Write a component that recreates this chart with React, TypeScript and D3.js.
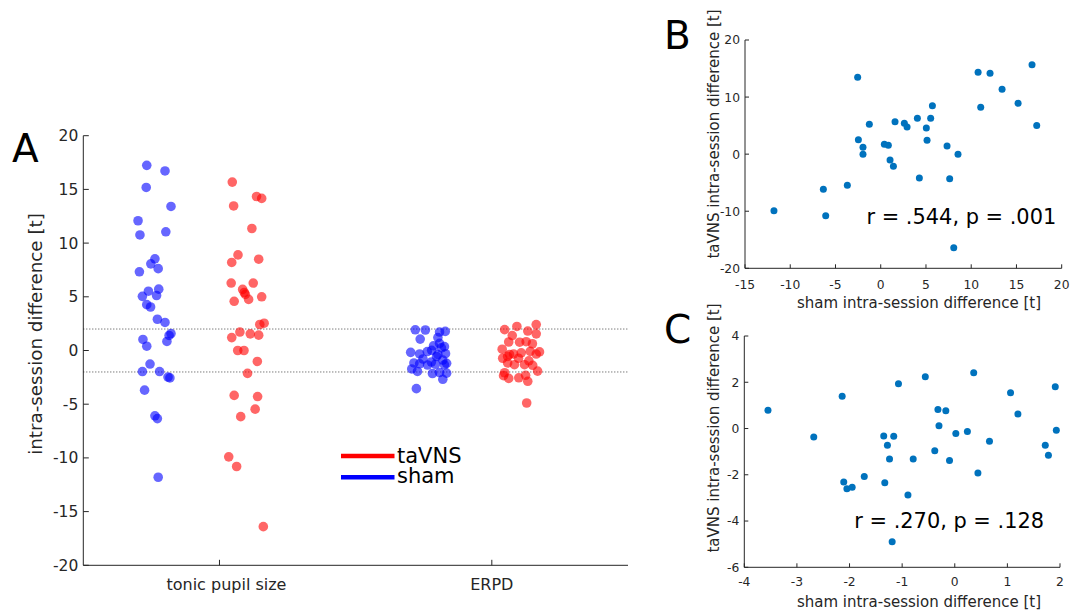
import React from "react";
import * as d3 from "d3";

// ---------- DATA ----------
// Panel A: tonic pupil size (same subjects as panel B)
const tonicSham = [-11.8, -2.55, -6.34, -6.08, -3.69, -2.47, -1.96, -1.96, -1.26, 0.4, 0.84, 1.03, 1.4, 1.58, 2.61, 2.91, 4.05, 4.27, 5.04, 5.12, 5.52, 5.71, 7.33, 7.62, 8.07, 8.54, 10.76, 11.05, 12.08, 13.41, 15.18, 16.72, 17.24];
const tonicTaVNS = [-9.9, 13.46, -6.16, -10.8, -5.46, 2.54, 1.2, 0, 5.23, 1.72, 1.55, -1.02, -2.13, 5.69, 5.4, 4.76, 6.28, -4.18, 4.58, 2.42, 6.28, 8.5, 1.43, -4.29, -16.4, 0, 14.34, 8.2, 14.16, 11.36, 8.9, 15.68, 5.0];
// ERPD (same subjects as panel C)
const erpdSham = [-3.55, -2.68, -2.14, -2.11, -2.05, -1.95, -1.72, -1.35, -1.33, -1.28, -1.24, -1.16, -1.19, -1.07, -0.89, -0.79, -0.56, -0.38, -0.32, -0.3, -0.17, -0.1, 0.02, 0.24, 0.36, 0.44, 0.66, 1.06, 1.2, 1.72, 1.78, 1.91, 1.93];
const erpdTaVNS = [0.79, -0.37, 1.39, -2.31, -2.6, -2.54, -2.07, -0.32, -2.34, -0.72, -1.32, -0.33, -4.89, 1.94, -2.87, -1.32, 2.24, -0.96, 0.82, 0.12, 0.77, -1.38, -0.22, -0.13, 2.41, -1.92, -0.55, 1.55, 0.63, -0.72, -1.16, 1.81, -0.08];

// horizontal jitter (category units)
const tonicShamJitter = [-0.225, -0.182, -0.228, -0.237, -0.275, -0.189, -0.283, -0.22, -0.255, -0.267, -0.193, -0.281, -0.185, -0.178, -0.2, -0.228, -0.253, -0.267, -0.283, -0.231, -0.261, -0.223, -0.294, -0.225, -0.252, -0.237, -0.292, -0.197, -0.299, -0.178, -0.269, -0.2, -0.267];
const tonicTaVNSJitter = [0.034, 0.052, 0.078, 0.063, 0.131, 0.164, 0.045, 0.067, 0.095, 0.075, 0.113, 0.139, 0.103, 0.085, 0.091, 0.107, 0.043, 0.054, 0.054, 0.148, 0.124, 0.144, 0.144, 0.14, 0.161, 0.09, 0.136, 0.045, 0.155, 0.119, 0.068, 0.047, 0.155];
const erpdShamJitter = [-0.277, -0.18, -0.218, -0.166, -0.192, -0.273, -0.294, -0.236, -0.174, -0.207, -0.265, -0.286, -0.166, -0.222, -0.18, -0.253, -0.203, -0.198, -0.265, -0.17, -0.298, -0.237, -0.221, -0.185, -0.174, -0.214, -0.192, -0.263, -0.198, -0.192, -0.171, -0.244, -0.281];
const erpdTaVNSJitter = [0.062, 0.065, 0.075, 0.124, 0.062, 0.099, 0.047, 0.08, 0.043, 0.04, 0.12, 0.163, 0.128, 0.047, 0.132, 0.083, 0.092, 0.136, 0.126, 0.038, 0.102, 0.15, 0.108, 0.175, 0.163, 0.168, 0.058, 0.163, 0.149, 0.098, 0.058, 0.132, 0.141];

const categories = ["tonic pupil size", "ERPD"];
const yTicksA = [-20, -15, -10, -5, 0, 5, 10, 15, 20];
const thresholds = [-2, 2];
const legendItems = [
  { label: "taVNS", color: "#ff0000" },
  { label: "sham", color: "#0000ff" },
];

const xTicksB = [-15, -10, -5, 0, 5, 10, 15, 20];
const yTicksB = [-20, -10, 0, 10, 20];
const xTicksC = [-4, -3, -2, -1, 0, 1, 2];
const yTicksC = [-6, -4, -2, 0, 2, 4];
const statsB = "r = .544, p = .001";
const statsC = "r = .270, p = .128";
const xLabelBC = "sham intra-session difference [t]";
const yLabelBC = "taVNS intra-session difference [t]";
const yLabelA = "intra-session difference [t]";

const FONT = "'DejaVu Sans', Verdana, sans-serif";
const AX = "#262626";
const DOT = "#0072BD";

function fmt(v: number) {
  return String(v);
}

function Axes({ x, y, xTicks, yTicks, tickFs, tickLen, xLabelDy, xTickFmt }: any) {
  const [x0, x1] = x.range();
  const [y0, y1] = y.range(); // y0 bottom, y1 top
  return (
    <g>
      <line x1={x0} x2={x1} y1={y0} y2={y0} stroke={AX} strokeWidth={1} />
      <line x1={x0} x2={x0} y1={y0} y2={y1} stroke={AX} strokeWidth={1} />
      {xTicks.map((t: any, i: number) => (
        <g key={"x" + i}>
          <line x1={x(t.v)} x2={x(t.v)} y1={y0} y2={y0 - tickLen} stroke={AX} strokeWidth={1} />
          <text x={x(t.v) + (t.dx || 0)} y={y0 + xLabelDy} textAnchor="middle" fontSize={t.fs || tickFs} fill={AX} fontFamily={FONT}>
            {t.label}
          </text>
        </g>
      ))}
      {yTicks.map((v: number, i: number) => (
        <g key={"y" + i}>
          <line x1={x0} x2={x0 + tickLen} y1={y(v)} y2={y(v)} stroke={AX} strokeWidth={1} />
          <text x={x0 - 5} y={y(v)} dy="0.36em" textAnchor="end" fontSize={tickFs} fill={AX} fontFamily={FONT}>
            {fmt(v)}
          </text>
        </g>
      ))}
    </g>
  );
}

export default function App() {
  // Panel A scales
  const xA = d3.scaleLinear().domain([0.5, 2.5]).range([83.3, 628]);
  const yA = d3.scaleLinear().domain([-20, 20]).range([565.3, 135.7]);
  // Panel B
  const xB = d3.scaleLinear().domain([-15, 20]).range([745, 1061.7]);
  const yB = d3.scaleLinear().domain([-20, 20]).range([268.3, 40]);
  // Panel C
  const xC = d3.scaleLinear().domain([-4, 2]).range([744.3, 1060]);
  const yC = d3.scaleLinear().domain([-6, 4]).range([567.3, 336]);

  const groupsA = [
    { cat: 1, vals: tonicSham, jit: tonicShamJitter, color: "#0000ff" },
    { cat: 1, vals: tonicTaVNS, jit: tonicTaVNSJitter, color: "#ff0000" },
    { cat: 2, vals: erpdSham, jit: erpdShamJitter, color: "#0000ff" },
    { cat: 2, vals: erpdTaVNS, jit: erpdTaVNSJitter, color: "#ff0000" },
  ];

  const catTicks = categories.map((c, i) => ({ v: i + 1, label: c, dx: i === 0 ? 7 : 0, fs: 16 }));

  return (
    <svg width={1084} height={610} style={{ position: "absolute", left: 0, top: 0, background: "#fff" }} fontFamily={FONT}>
      <rect x={0} y={0} width={1084} height={610} fill="#fff" />

      {/* ---------- Panel A ---------- */}
      {thresholds.map((t, i) => (
        <line key={i} x1={xA.range()[0]} x2={xA.range()[1]} y1={yA(t)} y2={yA(t)} stroke="#444" strokeWidth={1} strokeDasharray="1,2" />
      ))}
      {groupsA.map((g, gi) => (
        <g key={gi}>
          {g.vals.map((v, i) => (
            <circle key={i} cx={xA(g.cat + g.jit[i])} cy={yA(v)} r={4.8} fill={g.color} fillOpacity={0.6} />
          ))}
        </g>
      ))}
      <Axes x={xA} y={yA} xTicks={catTicks} yTicks={yTicksA} tickFs={15.5} tickLen={5.5} xLabelDy={25} />
      <text transform={`translate(42,334) rotate(-90)`} textAnchor="middle" fontSize={18.3} fill={AX}>
        {yLabelA}
      </text>
      <text x={12} y={161.7} fontSize={39} fill="#000">A</text>

      {/* legend */}
      {legendItems.map((l, i) => (
        <g key={i}>
          <line x1={341} x2={394.5} y1={456 + i * 21.3} y2={456 + i * 21.3} stroke={l.color} strokeWidth={4.5} />
          <text x={397} y={462.5 + i * 20.5} fontSize={21} fill="#000">{l.label}</text>
        </g>
      ))}

      {/* ---------- Panel B ---------- */}
      <Axes x={xB} y={yB} xTicks={xTicksB.map((v) => ({ v, label: fmt(v) }))} yTicks={yTicksB} tickFs={12.3} tickLen={4} xLabelDy={21} />
      {tonicSham.map((v, i) => (
        <circle key={i} cx={xB(v)} cy={yB(tonicTaVNS[i])} r={3.5} fill={DOT} />
      ))}
      <text x={866.5} y={224} fontSize={20.9} fill="#000">{statsB}</text>
      <text x={919} y={308.3} textAnchor="middle" fontSize={15} fill={AX}>{xLabelBC}</text>
      <text transform={`translate(719,134) rotate(-90)`} textAnchor="middle" fontSize={15} fill={AX}>{yLabelBC}</text>
      <text x={664} y={49} fontSize={39} fill="#000">B</text>

      {/* ---------- Panel C ---------- */}
      <Axes x={xC} y={yC} xTicks={xTicksC.map((v) => ({ v, label: fmt(v) }))} yTicks={yTicksC} tickFs={12.3} tickLen={4} xLabelDy={18.5} />
      {erpdSham.map((v, i) => (
        <circle key={i} cx={xC(v)} cy={yC(erpdTaVNS[i])} r={3.5} fill={DOT} />
      ))}
      <text x={854.3} y={528.3} fontSize={20.9} fill="#000">{statsC}</text>
      <text x={919} y={606.5} textAnchor="middle" fontSize={15} fill={AX}>{xLabelBC}</text>
      <text transform={`translate(719,428) rotate(-90)`} textAnchor="middle" fontSize={15} fill={AX}>{yLabelBC}</text>
      <text x={664} y={343} fontSize={39} fill="#000">C</text>
    </svg>
  );
}
